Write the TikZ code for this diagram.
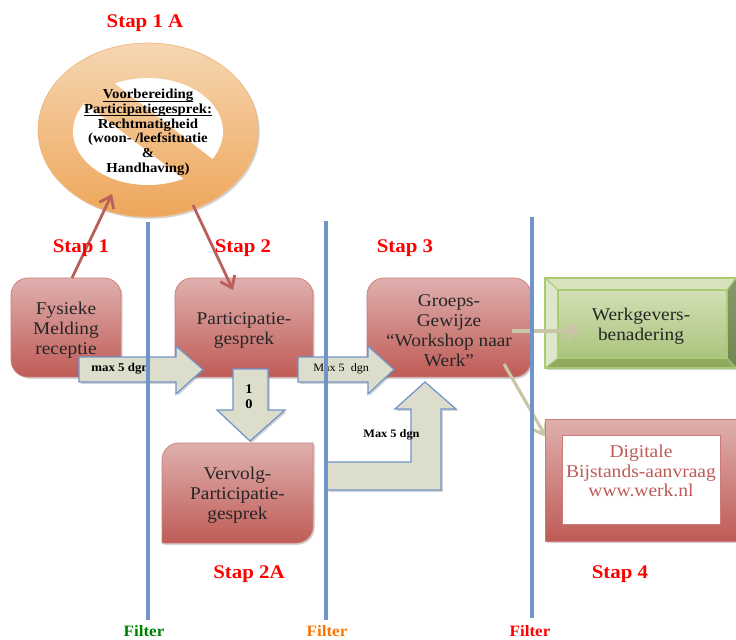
\documentclass[tikz,border=0pt]{standalone}
\usepackage{fontspec}
\setmainfont[FakeStretch=1.08]{Liberation Serif}
\usetikzlibrary{arrows.meta,shapes.geometric,shadows}
\definecolor{filterblue}{HTML}{7094C8}
\definecolor{arrowfill}{HTML}{DDDDCC}
\definecolor{tanline}{HTML}{C9C5A6}
\definecolor{redline}{HTML}{B9605C}
\definecolor{boxtop}{HTML}{DFB0AE}
\definecolor{boxbottom}{HTML}{BF5B56}
\definecolor{boxline}{HTML}{CC7B78}
\definecolor{ringtop}{HTML}{F6D6B2}
\definecolor{ringbottom}{HTML}{EEA65A}
\definecolor{ringline}{HTML}{F0B77C}
\definecolor{greentop}{HTML}{D2E0B4}
\definecolor{greenbottom}{HTML}{AAC47E}
\definecolor{greenline}{HTML}{A9CB74}
\definecolor{greenlight}{HTML}{DDE8CB}
\definecolor{greenup}{HTML}{D6E3BE}
\definecolor{greendown}{HTML}{8FAA5E}
\definecolor{greendark}{HTML}{6F8750}
\newcommand{\boxstrut}{\rule{0pt}{10pt}}
\tikzset{
    softshadow/.style={drop shadow={opacity=.35,shadow xshift=1pt,shadow yshift=-1pt}},
    redbox/.style={draw=boxline,top color=boxtop,bottom color=boxbottom,text=black!85,align=center,font=\fontsize{10.2}{11.4}\selectfont,inner sep=0pt,softshadow},
    boxtekst/.style={align=center,inner sep=0pt,text=black!85,font=\fontsize{10.2}{11.4}\selectfont},
    stapkop/.style={text=red,font=\fontsize{11}{12}\selectfont\bfseries},
    filterkop/.style={font=\fontsize{9}{11}\selectfont\bfseries},
    blockarrow/.style={draw=filterblue,fill=arrowfill,line width=.7pt,softshadow},
    filterline/.style={draw=filterblue,line width=1.9pt},
    redarrow/.style={draw=redline,line width=1.6pt,-{Straight Barb[length=6pt,width=9pt]}},
    tanarrow/.style={draw=tanline,line width=1.8pt,-{Straight Barb[length=6pt,width=9pt]}},
    kleintekst/.style={font=\fontsize{6.4}{7.5}\selectfont,inner sep=0pt},
}
\begin{document}
\begin{tikzpicture}[x=0.02cm,y=-0.02cm]
    \clip (0,0) rectangle (736,639);
    % Draw ring
    \node[ellipse,draw=ringline,top color=ringtop,bottom color=ringbottom,minimum width=4.4cm,minimum height=3.48cm,inner sep=0pt,softshadow] (ring) at (148,130) {};
    \begin{scope}
        \clip (148,131.5) ellipse (75 and 53.5);
        \fill[white] (64.5,44.5) -- (258.5,194.5) -- (258.5,44.5) -- cycle;
        \fill[white] (32,63) -- (236,219) -- (32,219) -- cycle;
    \end{scope}
    \node[align=center,inner sep=0pt,text=black,font=\fontsize{7.8}{8.4}\selectfont\bfseries] (ringtekst) at (148,137) {
        \underline{\smash{Voorbereiding}}\\
        \underline{\smash{Participatiegesprek:}}\\
        Rechtmatigheid\\
        (woon- /leefsituatie\\
        \&\\
        Handhaving)
    };
    % Draw boxes
    \node[redbox,rounded corners=0.34cm,minimum width=2.2cm,minimum height=1.98cm] (melding) at (66,327.5) {\boxstrut Fysieke\\Melding\\receptie};
    \node[redbox,rounded corners=0.34cm,minimum width=2.76cm,minimum height=1.98cm] (gesprek) at (244,327.5) {\boxstrut Participatie-\\gesprek};
    \node[redbox,rounded corners=0.34cm,minimum width=3.28cm,minimum height=1.98cm] (groeps) at (449,327.5) {\boxstrut Groeps-\\Gewijze\\``Workshop naar\\Werk''};
    \draw[draw=boxline,top color=boxtop,bottom color=boxbottom,softshadow] (162,543) [rounded corners=0.34cm] -- (162,443) [sharp corners] -- (313,443) [rounded corners=0.34cm] -- (313,543) [sharp corners] -- cycle;
    \node[boxtekst] (vervolg) at (237.5,495) {Vervolg-\\Participatie-\\gesprek};
    % Draw green bevel box
    \draw[draw=greenline,fill=greenup,line width=.6pt,softshadow] (545,278) rectangle (745,368);
    \fill[top color=greentop,bottom color=greenbottom] (558,290) rectangle (727,358);
    \fill[greenlight] (545,278) -- (558,290) -- (558,358) -- (545,368) -- cycle;
    \fill[greendown] (545,368) -- (558,358) -- (727,358) -- (736,368) -- cycle;
    \fill[top color=greendark!85,bottom color=greendark] (727,290) -- (736,278) -- (736,368) -- (727,358) -- cycle;
    \draw[draw=greenline,line width=.6pt] (545,278) rectangle (745,368);
    \draw[draw=greenline,line width=.6pt] (558,290) rectangle (727,358);
    \draw[draw=greenline,line width=.6pt] (545,278) -- (558,290) (545,368) -- (558,358) (727,358) -- (736,368) (727,290) -- (736,278);
    \node[boxtekst] (werkgevers) at (641,326) {Werkgevers-\\benadering};
    % Draw connectors
    \coordinate (ringin) at (112,194);
    \coordinate (ringuit) at (193,205);
    \coordinate (meldinguit) at (72,278);
    \coordinate (gesprekin) at (233,290);
    \coordinate (groepsrechts) at (512,331);
    \coordinate (groepsonder) at (504,364);
    \coordinate (werkgeversin) at (580,331);
    \coordinate (digitaalin) at (546,437);
    \draw[redarrow] (meldinguit) -- (ringin);
    \draw[redarrow] (ringuit) -- (gesprekin);
    \draw[tanarrow] (groepsrechts) -- (werkgeversin);
    \draw[tanarrow] (groepsonder) -- (digitaalin);
    % Draw red frame
    \node[draw=boxline,top color=boxtop,bottom color=boxbottom,minimum width=4.3cm,minimum height=2.44cm,inner sep=0pt,softshadow] (digitaal) at (652.5,480) {};
    \node[draw=boxline,fill=white,minimum width=3.16cm,minimum height=1.78cm,inner sep=0pt] (digitaalvlak) at (641,479.5) {};
    \node[align=center,inner sep=0pt,text=boxbottom,font=\fontsize{10.3}{11.2}\selectfont] (digitaaltekst) at (641,471) {Digitale\\Bijstands-aanvraag\\www.werk.nl};
    % Draw block arrows
    \draw[blockarrow] (79,357) -- (176,357) -- (176,346) -- (203,369.5) -- (176,394) -- (176,382) -- (79,382) -- cycle;
    \draw[blockarrow] (298,357) -- (368,357) -- (368,346) -- (394,369.5) -- (368,394) -- (368,382) -- (298,382) -- cycle;
    \draw[blockarrow] (233,369) -- (268,369) -- (268,410) -- (285,410) -- (250,441) -- (217,410) -- (233,410) -- cycle;
    \draw[blockarrow] (327,462) -- (411,462) -- (411,409) -- (395,409) -- (425,382) -- (456,409) -- (441,409) -- (441,490) -- (327,490) -- cycle;
    \node[kleintekst,anchor=west,font=\fontsize{6.8}{7.5}\selectfont\bfseries] (pijleen) at (91,369) {max 5 dgn};
    \node[kleintekst,anchor=west] (pijltwee) at (313,369) {Max 5~~dgn};
    \node[kleintekst,anchor=west,font=\fontsize{6.5}{7.5}\selectfont\bfseries] (pijldrie) at (363,435) {Max 5 dgn};
    \node[align=center,inner sep=0pt,font=\fontsize{7.6}{8.6}\selectfont\bfseries] (pijlvier) at (249,397) {1\\0};
    % Draw filter lines
    \draw[filterline] (148,222) -- (148,620);
    \draw[filterline] (326,221) -- (326,620);
    \draw[filterline] (532,217) -- (532,618);
    % Draw headings
    \node[stapkop] (stapeena) at (145,23) {Stap 1 A};
    \node[stapkop] (stapeen) at (81,248) {Stap 1};
    \node[stapkop] (staptwee) at (243,248) {Stap 2};
    \node[stapkop] (stapdrie) at (405,248) {Stap 3};
    \node[stapkop] (staptweea) at (249,574) {Stap 2A};
    \node[stapkop] (stapvier) at (620,574) {Stap 4};
    \node[filterkop,text=green!50!black] (filtereen) at (144,631) {Filter};
    \node[filterkop,text=orange!90!red] (filtertwee) at (327,631) {Filter};
    \node[filterkop,text=red] (filterdrie) at (530,631) {Filter};
\end{tikzpicture}
\end{document}
